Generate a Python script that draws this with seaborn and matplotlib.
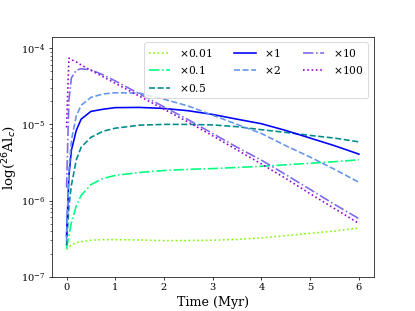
import matplotlib
matplotlib.use("Agg")
import matplotlib.pyplot as plt
import seaborn as sns

# =========================
# Data
# =========================

time_myr = [0, 0.05, 0.1, 0.2, 0.3, 0.5, 0.75, 1, 1.5, 2,
            2.5, 3, 3.5, 4, 4.5, 5, 5.5, 6]

al_x0_01 = [2.29e-7, 2.48e-7, 2.60e-7, 2.82e-7, 2.88e-7, 3.02e-7, 3.07e-7, 3.07e-7, 3.04e-7,
            2.98e-7, 2.99e-7, 3.02e-7, 3.09e-7, 3.24e-7, 3.47e-7, 3.72e-7, 3.98e-7, 4.37e-7]
al_x0_1 = [2.34e-7, 3.47e-7, 5.13e-7, 8.51e-7, 1.17e-6, 1.62e-6, 1.95e-6, 2.14e-6, 2.34e-6,
           2.48e-6, 2.57e-6, 2.63e-6, 2.72e-6, 2.82e-6, 2.95e-6, 3.09e-6, 3.24e-6, 3.43e-6]
al_x0_5 = [2.57e-7, 8.51e-7, 1.58e-6, 3.39e-6, 5.01e-6, 6.76e-6, 8.13e-6, 8.91e-6, 9.77e-6,
           1.0e-5, 1.0e-5, 9.84e-6, 9.33e-6, 8.51e-6, 7.85e-6, 7.16e-6, 6.61e-6, 5.89e-6]
al_x1 = [3.39e-7, 2.14e-6, 4.57e-6, 8.32e-6, 1.17e-5, 1.48e-5, 1.58e-5, 1.66e-5, 1.67e-5,
         1.62e-5, 1.51e-5, 1.35e-5, 1.17e-5, 1.02e-5, 8.32e-6, 6.61e-6, 5.25e-6, 4.07e-6]
al_x2 = [2.95e-7, 2.51e-6, 6.17e-6, 1.29e-5, 1.78e-5, 2.26e-5, 2.51e-5, 2.60e-5, 2.57e-5,
         2.14e-5, 1.74e-5, 1.32e-5, 1.0e-5, 7.59e-6, 5.25e-6, 3.72e-6, 2.57e-6, 1.74e-6]
al_x10 = [1.48e-6, 2.09e-5, 4.07e-5, 5.13e-5, 5.37e-5, 5.21e-5, 4.47e-5, 3.72e-5, 2.51e-5,
          1.70e-5, 1.15e-5, 7.59e-6, 5.01e-6, 3.39e-6, 2.19e-6, 1.40e-6, 8.91e-7, 5.79e-7]
al_x100 = [9.12e-6, 7.41e-5, 7.08e-5, 6.61e-5, 6.03e-5, 5.13e-5, 4.22e-5, 3.47e-5, 2.34e-5,
           1.58e-5, 1.07e-5, 7.08e-6, 4.62e-6, 3.02e-6, 1.95e-6, 1.23e-6, 7.85e-7, 5.01e-7]

labels = [r"$\times$0.01", r"$\times$0.1", r"$\times$0.5", r"$\times$1",
          r"$\times$2", r"$\times$10", r"$\times$100"]
series = [al_x0_01, al_x0_1, al_x0_5, al_x1, al_x2, al_x10, al_x100]
colors = ["lawngreen", "springgreen", "darkcyan", "blue",
          "cornflowerblue", "mediumslateblue", "darkviolet"]
styles = [":", "-.", "--", "-", "--", "-.", ":"]

# =========================
# Plot
# =========================

plt.rcParams["font.family"] = "serif"
plt.rcParams["font.serif"] = ["DejaVu Serif"]

fig, ax = plt.subplots(figsize=(6.4, 4.8))

for vals, lab, col, ls in zip(series, labels, colors, styles):
    sns.lineplot(
        x=time_myr,
        y=vals,
        color=col,
        linestyle=ls,
        linewidth=1.8,
        label=lab,
        ax=ax
    )

ax.set_yscale("log")
ax.set_ylim(1e-7, 1.4e-4)
ax.set_xticks([0, 1, 2, 3, 4, 5, 6])
ax.tick_params(labelsize=11)

ax.set_xlabel("Time (Myr)", fontsize=14)
ax.set_ylabel(r"log($^{26}$Al$_c$)", fontsize=15)
ax.yaxis.set_label_coords(-0.10, 0.5)

ax.legend(ncol=3, loc="upper right", fontsize=12)

fig.savefig("out.png", dpi=64.85)
